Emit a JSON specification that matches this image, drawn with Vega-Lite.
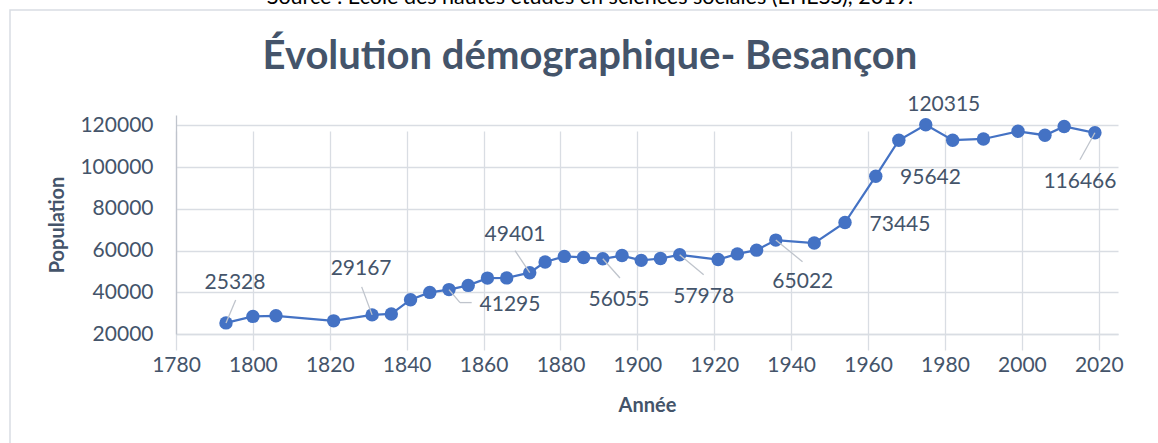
{
  "$schema": "https://vega.github.io/schema/vega-lite/v6.json",
  "width": 1160,
  "height": 445,
  "autosize": {"type": "none"},
  "padding": {"left": 10, "top": 10, "right": -12, "bottom": -12},
  "background": "white",
  "config": {
    "view": {"stroke": "#D9DDE3", "strokeWidth": 1.5},
    "font": "Lato"
  },
  "title": {
    "text": "Source : École des hautes études en sciences sociales (EHESS), 2019.",
    "subtitle": "Évolution démographique- Besançon",
    "anchor": "middle",
    "frame": "group",
    "font": "Lato",
    "fontSize": 21.5,
    "fontWeight": "normal",
    "color": "#000000",
    "subtitleFont": "Lato",
    "subtitleFontSize": 40,
    "subtitleFontWeight": "bold",
    "subtitleColor": "#44546A",
    "subtitlePadding": 28.6,
    "offset": -67
  },
  "data": {
    "values": [
      {"year": 1793, "pop": 25328},
      {"year": 1800, "pop": 28436},
      {"year": 1806, "pop": 28721},
      {"year": 1821, "pop": 26300},
      {"year": 1831, "pop": 29167},
      {"year": 1836, "pop": 29600},
      {"year": 1841, "pop": 36450},
      {"year": 1846, "pop": 39950},
      {"year": 1851, "pop": 41295},
      {"year": 1856, "pop": 43300},
      {"year": 1861, "pop": 46800},
      {"year": 1866, "pop": 46900},
      {"year": 1872, "pop": 49401},
      {"year": 1876, "pop": 54500},
      {"year": 1881, "pop": 57200},
      {"year": 1886, "pop": 56700},
      {"year": 1891, "pop": 56055},
      {"year": 1896, "pop": 57600},
      {"year": 1901, "pop": 55300},
      {"year": 1906, "pop": 56200},
      {"year": 1911, "pop": 57978},
      {"year": 1921, "pop": 55700},
      {"year": 1926, "pop": 58400},
      {"year": 1931, "pop": 60200},
      {"year": 1936, "pop": 65022},
      {"year": 1946, "pop": 63600},
      {"year": 1954, "pop": 73445},
      {"year": 1962, "pop": 95642},
      {"year": 1968, "pop": 112900},
      {"year": 1975, "pop": 120315},
      {"year": 1982, "pop": 112900},
      {"year": 1990, "pop": 113500},
      {"year": 1999, "pop": 117200},
      {"year": 2006, "pop": 115300},
      {"year": 2011, "pop": 119500},
      {"year": 2019, "pop": 116466}
    ]
  },
  "encoding": {
    "x": {
      "field": "year", "type": "quantitative",
      "scale": {"domain": [1780, 2025], "range": [166, 1108], "nice": false, "zero": false},
      "axis": {
        "title": "Année",
        "values": [1780, 1800, 1820, 1840, 1860, 1880, 1900, 1920, 1940, 1960, 1980, 2000, 2020],
        "format": "d",
        "grid": true, "gridColor": "#D9DDE3", "gridWidth": 1.3,
        "domainColor": "#D9DDE3", "domainWidth": 1.3,
        "tickSize": 0, "labelPadding": 20, "labelFlush": false, "labelOverlap": false,
        "labelFont": "Lato", "labelFontSize": 21, "labelColor": "#44546A",
        "titleFont": "Lato", "titleFontSize": 20, "titleFontWeight": "bold", "titleColor": "#44546A",
        "titlePadding": 20,
        "offset": -121
      }
    },
    "y": {
      "field": "pop", "type": "quantitative",
      "scale": {"domain": [20000, 125000], "range": [324, 105], "nice": false, "zero": false},
      "axis": {
        "title": "Population",
        "values": [20000, 40000, 60000, 80000, 100000, 120000],
        "format": "d",
        "grid": true, "gridColor": "#D9DDE3", "gridWidth": 1.3,
        "domainColor": "#BFC4CC", "domainWidth": 1.3,
        "tickSize": 0, "labelPadding": 23, "labelOverlap": false,
        "labelFont": "Lato", "labelFontSize": 21, "labelColor": "#44546A",
        "titleFont": "Lato", "titleFontSize": 20, "titleFontWeight": "bold", "titleColor": "#44546A",
        "titlePadding": 12,
        "offset": -166
      }
    }
  },
  "layer": [
    {"mark": {"type": "line", "color": "#4472C4", "strokeWidth": 2.25}},
    {"mark": {"type": "point", "filled": true, "size": 180, "color": "#4472C4", "opacity": 1}},
    {"transform": [{"filter": "datum.year == 1793"}],
     "mark": {"type": "rule", "color": "#BFC4CC", "strokeWidth": 1.3, "x2Offset": 9.7, "y2Offset": -23},
     "encoding": {"x2": {"field": "year"}, "y2": {"field": "pop"}}},
    {"transform": [{"filter": "datum.year == 1831"}],
     "mark": {"type": "rule", "color": "#BFC4CC", "strokeWidth": 1.3, "x2Offset": -10.4, "y2Offset": -28},
     "encoding": {"x2": {"field": "year"}, "y2": {"field": "pop"}}},
    {"transform": [{"filter": "datum.year == 1851"}],
     "mark": {"type": "rule", "color": "#BFC4CC", "strokeWidth": 1.3, "x2Offset": 11, "y2Offset": 13},
     "encoding": {"x2": {"field": "year"}, "y2": {"field": "pop"}}},
    {"transform": [{"filter": "datum.year == 1851"}],
     "mark": {"type": "rule", "color": "#BFC4CC", "strokeWidth": 1.3, "xOffset": 11, "yOffset": 13, "x2Offset": 22.7, "y2Offset": 13},
     "encoding": {"x2": {"field": "year"}, "y2": {"field": "pop"}}},
    {"transform": [{"filter": "datum.year == 1872"}],
     "mark": {"type": "rule", "color": "#BFC4CC", "strokeWidth": 1.3, "x2Offset": -14.7, "y2Offset": -22},
     "encoding": {"x2": {"field": "year"}, "y2": {"field": "pop"}}},
    {"transform": [{"filter": "datum.year == 1891"}],
     "mark": {"type": "rule", "color": "#BFC4CC", "strokeWidth": 1.3, "x2Offset": 17.2, "y2Offset": 19.2},
     "encoding": {"x2": {"field": "year"}, "y2": {"field": "pop"}}},
    {"transform": [{"filter": "datum.year == 1911"}],
     "mark": {"type": "rule", "color": "#BFC4CC", "strokeWidth": 1.3, "x2Offset": 24, "y2Offset": 20},
     "encoding": {"x2": {"field": "year"}, "y2": {"field": "pop"}}},
    {"transform": [{"filter": "datum.year == 1936"}],
     "mark": {"type": "rule", "color": "#BFC4CC", "strokeWidth": 1.3, "x2Offset": 26.7, "y2Offset": 21.6},
     "encoding": {"x2": {"field": "year"}, "y2": {"field": "pop"}}},
    {"transform": [{"filter": "datum.year == 2019"}],
     "mark": {"type": "rule", "color": "#BFC4CC", "strokeWidth": 1.3, "x2Offset": -15, "y2Offset": 27},
     "encoding": {"x2": {"field": "year"}, "y2": {"field": "pop"}}},
    {"transform": [{"filter": "datum.year == 1793"}],
     "mark": {"type": "text", "font": "Lato", "fontSize": 21, "color": "#44546A", "baseline": "middle", "dx": 9, "dy": -40},
     "encoding": {"text": {"field": "pop", "type": "quantitative", "format": "d"}}},
    {"transform": [{"filter": "datum.year == 1831"}],
     "mark": {"type": "text", "font": "Lato", "fontSize": 21, "color": "#44546A", "baseline": "middle", "dx": -11, "dy": -46},
     "encoding": {"text": {"field": "pop", "type": "quantitative", "format": "d"}}},
    {"transform": [{"filter": "datum.year == 1851"}],
     "mark": {"type": "text", "font": "Lato", "fontSize": 21, "color": "#44546A", "baseline": "middle", "dx": 61, "dy": 15.4},
     "encoding": {"text": {"field": "pop", "type": "quantitative", "format": "d"}}},
    {"transform": [{"filter": "datum.year == 1872"}],
     "mark": {"type": "text", "font": "Lato", "fontSize": 21, "color": "#44546A", "baseline": "middle", "dx": -14.7, "dy": -37.7},
     "encoding": {"text": {"field": "pop", "type": "quantitative", "format": "d"}}},
    {"transform": [{"filter": "datum.year == 1891"}],
     "mark": {"type": "text", "font": "Lato", "fontSize": 21, "color": "#44546A", "baseline": "middle", "dx": 16.2, "dy": 41},
     "encoding": {"text": {"field": "pop", "type": "quantitative", "format": "d"}}},
    {"transform": [{"filter": "datum.year == 1911"}],
     "mark": {"type": "text", "font": "Lato", "fontSize": 21, "color": "#44546A", "baseline": "middle", "dx": 24, "dy": 42},
     "encoding": {"text": {"field": "pop", "type": "quantitative", "format": "d"}}},
    {"transform": [{"filter": "datum.year == 1936"}],
     "mark": {"type": "text", "font": "Lato", "fontSize": 21, "color": "#44546A", "baseline": "middle", "dx": 27, "dy": 41.6},
     "encoding": {"text": {"field": "pop", "type": "quantitative", "format": "d"}}},
    {"transform": [{"filter": "datum.year == 1954"}],
     "mark": {"type": "text", "font": "Lato", "fontSize": 21, "color": "#44546A", "baseline": "middle", "dx": 55, "dy": 2.5},
     "encoding": {"text": {"field": "pop", "type": "quantitative", "format": "d"}}},
    {"transform": [{"filter": "datum.year == 1962"}],
     "mark": {"type": "text", "font": "Lato", "fontSize": 21, "color": "#44546A", "baseline": "middle", "dx": 54.7, "dy": 1.5},
     "encoding": {"text": {"field": "pop", "type": "quantitative", "format": "d"}}},
    {"transform": [{"filter": "datum.year == 1975"}],
     "mark": {"type": "text", "font": "Lato", "fontSize": 21, "color": "#44546A", "baseline": "middle", "dx": 18, "dy": -20},
     "encoding": {"text": {"field": "pop", "type": "quantitative", "format": "d"}}},
    {"transform": [{"filter": "datum.year == 2019"}],
     "mark": {"type": "text", "font": "Lato", "fontSize": 21, "color": "#44546A", "baseline": "middle", "dx": -15, "dy": 49},
     "encoding": {"text": {"field": "pop", "type": "quantitative", "format": "d"}}}
  ]
}
